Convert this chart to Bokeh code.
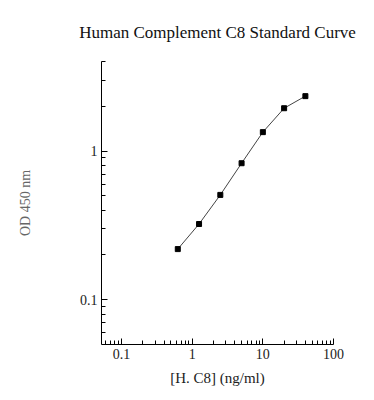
from bokeh.plotting import figure
from bokeh.models import Range1d, FixedTicker, CustomJSTickFormatter
from bokeh.embed import file_html
from bokeh.resources import INLINE

# data
conc = [0.625, 1.25, 2.5, 5, 10, 20, 40]
od = [0.219, 0.323, 0.507, 0.828, 1.34, 1.94, 2.34]

x_major = [0.1, 1, 10, 100]
x_minor = [0.06, 0.07, 0.08, 0.09, 0.2, 0.3, 0.4, 0.5, 0.6, 0.7, 0.8, 0.9,
           2, 3, 4, 5, 6, 7, 8, 9, 20, 30, 40, 50, 60, 70, 80, 90]
y_major = [0.1, 1]
y_minor = [0.06, 0.07, 0.08, 0.09, 0.2, 0.3, 0.4, 0.5, 0.6, 0.7, 0.8, 0.9, 2, 3, 4]

title_text = "Human Complement C8 Standard Curve"
FONT = "Liberation Serif"

p = figure(width=358, height=390, x_axis_type="log", y_axis_type="log",
           x_range=Range1d(0.052, 100), y_range=Range1d(0.05, 4),
           output_backend="svg", toolbar_location=None,
           title=title_text,
           min_border_left=101, min_border_right=25, min_border_top=60,
           min_border_bottom=46)

p.title.align = "center"
p.title.text_font = FONT
p.title.text_font_size = "17px"
p.title.text_font_style = "normal"
p.title.text_color = "#111111"
p.title.standoff = 40

p.outline_line_color = None
p.xgrid.visible = False
p.ygrid.visible = False

p.line(conc, od, line_color="#444444", line_width=1)
p.scatter(conc, od, marker="square", size=5, fill_color="black", line_color="black")

fmt = CustomJSTickFormatter(code="return tick.toString();")

for ax, maj, mnr in ((p.xaxis[0], x_major, x_minor), (p.yaxis[0], y_major, y_minor)):
    ax.ticker = FixedTicker(ticks=maj, minor_ticks=mnr)
    ax.formatter = fmt
    ax.major_tick_in = 6
    ax.major_tick_out = 0
    ax.minor_tick_in = 4
    ax.minor_tick_out = 0
    ax.axis_line_color = "black"
    ax.major_tick_line_color = "black"
    ax.minor_tick_line_color = "black"
    ax.major_label_text_font = FONT
    ax.major_label_text_font_size = "14px"
    ax.major_label_text_color = "#222222"
    ax.axis_label_text_font = FONT
    ax.axis_label_text_font_style = "normal"

p.xaxis.axis_label = "[H. C8] (ng/ml)"
p.xaxis.axis_label_text_font_size = "15px"
p.xaxis.axis_label_text_color = "#222222"
p.xaxis.axis_label_standoff = 8
p.xaxis.major_label_standoff = 4

p.yaxis.axis_label = "OD 450 nm"
p.yaxis.axis_label_text_font_size = "14px"
p.yaxis.axis_label_text_color = "#666666"
p.yaxis.axis_label_standoff = 44
p.yaxis.major_label_standoff = 4

open("out.html", "w").write(file_html(p, INLINE))
